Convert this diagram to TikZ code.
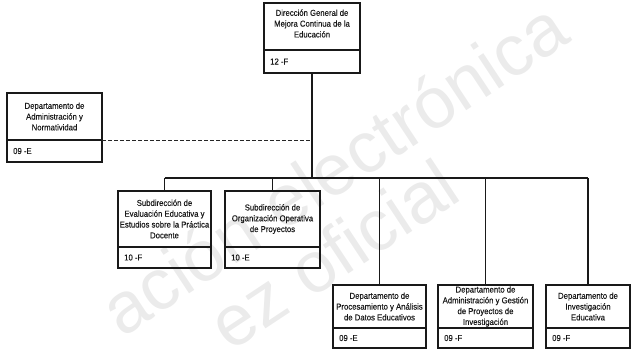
\documentclass[tikz,border=0pt]{standalone}
\usepackage{fontspec}
\setmainfont{Liberation Sans}
\newfontfamily\chartfont[FakeStretch=0.9,FakeBold=0.25]{Liberation Sans}
\usetikzlibrary{fit}

% One unit of the chart: outer box, title area and a code row under a rule.
% [#1] vertical nudge of the title, #2 name, #3 left, #4 top, #5 right,
% #6 bottom, #7 y of the rule, #8 title, #9 code
\newcommand\orgunit[9][0]{%
  \coordinate (#2-nw) at (#3,#4);
  \coordinate (#2-se) at (#5,#6);
  \node[unitbox, fit=(#2-nw)(#2-se)] (#2) {};
  \coordinate (#2-dw) at (#3,#7);
  \coordinate (#2-de) at (#5,#7);
  \draw[rule] (#2-dw) -- (#2-de);
  \node[titletext] (#2-title) at ({(#3+#5)/2},{(#4+#7)/2+#1}) {#8};
  \node[codetext] (#2-code) at ({#3+6},{(#7+#6)/2}) {#9};
}

\begin{document}
\begin{tikzpicture}[x=1pt,y=-1pt,
  unitbox/.style={draw=black!90, line width=1.1pt, inner sep=0pt},
  rule/.style={draw=black!90, line width=1.1pt},
  titletext/.style={align=center, font=\chartfont\fontsize{8.6}{10.8}\selectfont, inner sep=0pt, text=black!90},
  codetext/.style={anchor=west, font=\chartfont\fontsize{8.6}{10.8}\selectfont, inner sep=0pt, text=black!90},
  link/.style={draw=black!90, line width=1.1pt},
  dashlink/.style={draw=black!85, line width=0.9pt, dash pattern=on 4pt off 2pt},
  watermark/.style={text=black!8, font=\fontsize{72}{72}\selectfont, rotate=33.5, inner sep=0pt}]
\useasboundingbox (0,0) rectangle (631,353);

% background stamp text
\begin{scope}
  \clip (0,0) rectangle (631,353);
  \node[watermark] (wm1) at (333,168) {ación electrónica};
  \node[watermark] (wm2) at (333,254) {ez oficial};
\end{scope}

% units
\orgunit[-3]{dg}{264}{3}{360}{73}{50}{Dirección General de\\Mejora Continua de la\\Educación}{12 -F}
\orgunit{adm}{7}{93}{102}{162}{140}{Departamento de\\Administración y\\Normatividad}{09 -E}
\orgunit{sub1}{118}{191}{211}{268}{247}{Subdirección de\\Evaluación Educativa y\\Estudios sobre la Práctica\\Docente}{10 -F}
\orgunit{sub2}{225}{191}{320}{268}{247}{Subdirección de\\Organización Operativa\\de Proyectos}{10 -E}
\orgunit{dep1}{333}{285}{426}{348}{328}{Departamento de\\Procesamiento y Análisis\\de Datos Educativos}{09 -E}
\orgunit{dep2}{438}{285}{533}{348}{328}{Departamento de\\Administración y Gestión\\de Proyectos de\\Investigación}{09 -F}
\orgunit{dep3}{546}{285}{630}{348}{328}{Departamento de\\Investigación\\Educativa}{09 -F}

% connectors
\coordinate (bus) at (312,178);
\draw[link] (dg.south) -- (dg.south |- bus);
\draw[link] (sub1.north |- bus) -- (dep3.north |- bus);
\draw[link] (sub1.north |- bus) -- (sub1.north);
\draw[link] (sub2.north |- bus) -- (sub2.north);
\draw[link] (dep1.north |- bus) -- (dep1.north);
\draw[link] (dep2.north |- bus) -- (dep2.north);
\draw[link] (dep3.north |- bus) -- (dep3.north);
\draw[dashlink] (adm-de) -- (dg.south |- adm-de);
\end{tikzpicture}
\end{document}
